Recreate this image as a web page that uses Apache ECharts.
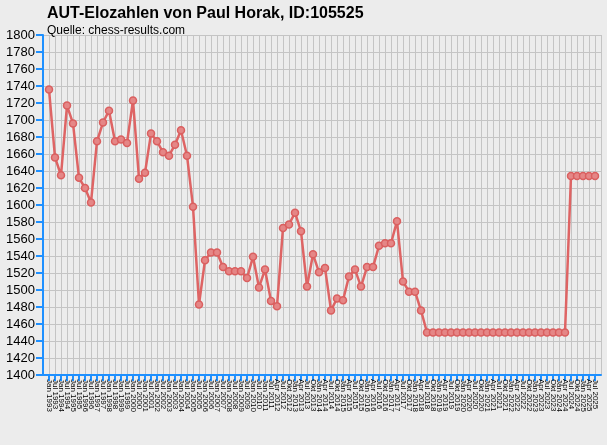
<!DOCTYPE html>
<html>
<head>
<meta charset="utf-8">
<script src="https://cdn.jsdelivr.net/npm/echarts@6/dist/echarts.min.js"></script>
<style>
html,body{margin:0;padding:0;background:#ececec;}
#c{width:607px;height:445px;}
</style>
</head>
<body>
<div id="c"></div>
<script>
const titleText = "AUT-Elozahlen von Paul Horak, ID:105525";
const subText = "Quelle: chess-results.com";

const categories = [
  "Jan 1993","Jul 1993","Jan 1994","Jul 1994","Jan 1995","Jul 1995","Jan 1996","Jul 1996",
  "Jan 1997","Jul 1997","Jan 1998","Jul 1998","Jan 1999","Jul 1999","Jan 2000","Jul 2000",
  "Jan 2001","Jul 2001","Jan 2002","Jul 2002","Jan 2003","Jul 2003","Jan 2004","Jul 2004",
  "Jan 2005","Jul 2005","Jan 2006","Jul 2006","Jan 2007","Jul 2007","Jan 2008","Jul 2008",
  "Jan 2009","Jul 2009","Jan 2010","Jul 2010","Jan 2011","Jul 2011",
  "Apr 2012","Jul 2012","Okt 2012",
  "Jan 2013","Apr 2013","Jul 2013","Okt 2013",
  "Jan 2014","Apr 2014","Jul 2014","Okt 2014",
  "Jan 2015","Apr 2015","Jul 2015","Okt 2015",
  "Jan 2016","Apr 2016","Jul 2016","Okt 2016",
  "Jan 2017","Apr 2017","Jul 2017","Okt 2017",
  "Jan 2018","Apr 2018","Jul 2018","Okt 2018",
  "Jan 2019","Apr 2019","Jul 2019","Okt 2019",
  "Jan 2020","Apr 2020","Jul 2020","Okt 2020",
  "Jan 2021","Apr 2021","Jul 2021","Okt 2021",
  "Jan 2022","Apr 2022","Jul 2022","Okt 2022",
  "Jan 2023","Apr 2023","Jul 2023","Okt 2023",
  "Jan 2024","Apr 2024","Jul 2024","Okt 2024",
  "Jan 2025","Apr 2025","Jul 2025"
];

const elo = [
  1736,1656,1635,1717,1696,1632,1620,1603,1675,1697,
  1711,1675,1677,1673,1723,1631,1638,1684,1675,1662,
  1658,1671,1688,1658,1598,1483,1535,1544,1544,1527,
  1522,1522,1522,1514,1539,1503,1524,1487,1481,1573,
  1577,1591,1569,1504,1542,1521,1526,1476,1490,1488,
  1516,1524,1504,1527,1527,1552,1555,1555,1581,1510,
  1498,1498,1476,1450,1450,1450,1450,1450,1450,1450,
  1450,1450,1450,1450,1450,1450,1450,1450,1450,1450,
  1450,1450,1450,1450,1450,1450,1450,1634,1634,1634,
  1634,1634
];

const yMin = 1400, yMax = 1800, yStep = 20;

// pad one empty slot at each end of the category axis
const axisCats = [""].concat(categories, [""]);
const seriesData = [null].concat(elo, [null]);
const lastIdx = axisCats.length - 1;

const chart = echarts.init(document.getElementById('c'));
chart.setOption({
  backgroundColor: '#ececec',
  animation: false,
  textStyle: { fontFamily: 'Liberation Sans, Arial, sans-serif' },
  title: {
    text: titleText,
    subtext: subText,
    left: 42,
    top: 1,
    itemGap: 3,
    textStyle: { fontSize: 16, fontWeight: 'bold', color: '#000', fontFamily: 'Liberation Sans, Arial, sans-serif' },
    subtextStyle: { fontSize: 12, color: '#000', fontFamily: 'Liberation Sans, Arial, sans-serif' }
  },
  grid: { left: 43, right: 6, top: 35, bottom: 70, containLabel: false },
  xAxis: {
    type: 'category',
    data: axisCats,
    boundaryGap: false,
    axisLine: { show: true, lineStyle: { color: '#1e90ff', width: 2 } },
    axisTick: {
      show: true, length: 6,
      interval: function (i) { return i > 0 && i < lastIdx; },
      lineStyle: { color: '#1e90ff', width: 2 }
    },
    axisLabel: {
      interval: 0, rotate: -90, fontSize: 8, color: '#000', margin: 4,
      fontFamily: 'Liberation Sans, Arial, sans-serif'
    },
    splitLine: { show: true, interval: 0, lineStyle: { color: '#c4c4c4', width: 1 } }
  },
  yAxis: {
    type: 'value',
    min: yMin, max: yMax, interval: yStep,
    axisLine: { show: true, lineStyle: { color: '#1e90ff', width: 2 } },
    axisTick: { show: true, length: 7, lineStyle: { color: '#1e90ff', width: 2 } },
    axisLabel: {
      fontSize: 13, color: '#000', margin: 8,
      fontFamily: 'Liberation Sans, Arial, sans-serif',
      formatter: function (v) { return String(v); }
    },
    splitLine: { show: true, lineStyle: { color: '#c4c4c4', width: 1 } }
  },
  series: [{
    type: 'line',
    data: seriesData,
    symbol: 'circle',
    symbolSize: 7,
    showAllSymbol: true,
    connectNulls: false,
    lineStyle: { color: '#de6464', width: 2.5 },
    itemStyle: { color: '#e58686', borderColor: '#da5f5f', borderWidth: 1.5 }
  }]
});
</script>
</body>
</html>
